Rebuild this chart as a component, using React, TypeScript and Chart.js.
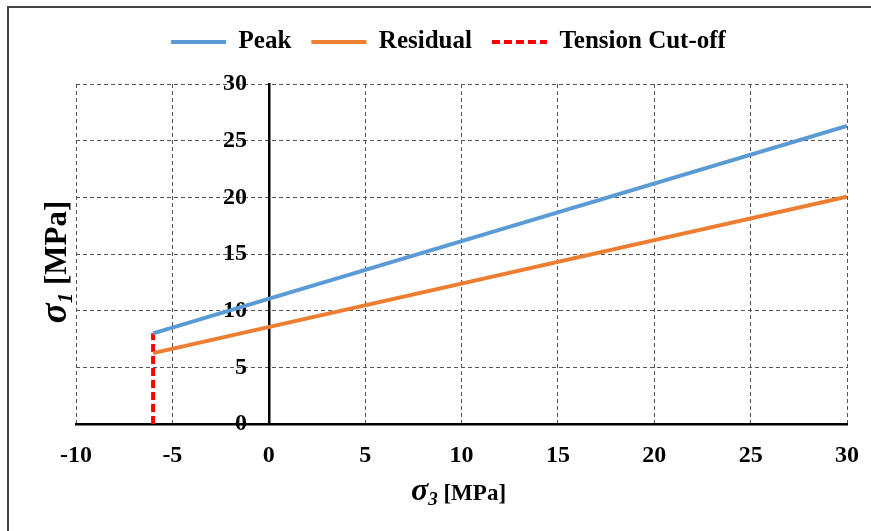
import React, { useEffect, useRef } from 'react';
import { Chart, registerables } from 'chart.js';

Chart.register(...registerables);

// ---- data ----
const seriesNames = ['Peak', 'Residual', 'Tension Cut-off'];
const sigma3 = [-6, 30];
const peakSigma1 = [8.0, 26.3];
const residualSigma1 = [6.25, 20.05];
const cutoffSigma3 = [-6, -6];
const cutoffSigma1 = [0, 8.0];
const xTickValues = [-10, -5, 0, 5, 10, 15, 20, 25, 30];
const yTickValues = [0, 5, 10, 15, 20, 25, 30];
const xTitleParts = ['σ', '3', ' [MPa]'];
const yTitleParts = ['σ', '1', ' [MPa]'];
const yLabelAnchor = -1.13; // σ3 value where the σ1 tick labels end (right-aligned)

const SERIF = '"Liberation Serif", "Times New Roman", serif';

type Part = { text: string; font: string; dy: number };

function drawParts(ctx: CanvasRenderingContext2D, parts: Part[], cx: number, baseline: number) {
  let total = 0;
  const widths = parts.map((p) => {
    ctx.font = p.font;
    const w = ctx.measureText(p.text).width;
    total += w;
    return w;
  });
  let x = cx - total / 2;
  ctx.textAlign = 'left';
  ctx.textBaseline = 'alphabetic';
  ctx.fillStyle = '#000';
  parts.forEach((p, i) => {
    ctx.font = p.font;
    ctx.fillText(p.text, x, baseline + p.dy);
    x += widths[i];
  });
}

const helperPlugin = {
  id: 'axisTitles',
  afterInit(chart: any) {
    const legend = chart.legend;
    if (legend && !legend.__patched) {
      const origFit = legend.fit.bind(legend);
      legend.fit = function () {
        origFit();
        this.height += 19.5;
      };
      const origDraw = legend.draw.bind(legend);
      legend.draw = function () {
        const c = this.ctx;
        c.save();
        c.translate(-13, 0);
        origDraw();
        c.restore();
      };
      legend.__patched = true;
    }
  },
  afterDraw(chart: any) {
    const { ctx, chartArea } = chart;
    ctx.save();
    const xParts: Part[] = [
      { text: xTitleParts[0], font: `italic bold 32px ${SERIF}`, dy: 0 },
      { text: xTitleParts[1], font: `italic bold 19px ${SERIF}`, dy: 5 },
      { text: xTitleParts[2], font: `bold 23px ${SERIF}`, dy: 0 },
    ];
    drawParts(ctx, xParts, (chartArea.left + chartArea.right) / 2 - 3, 500);

    ctx.translate(66, 262);
    ctx.rotate(-Math.PI / 2);
    const yParts: Part[] = [
      { text: yTitleParts[0], font: `italic bold 37px ${SERIF}`, dy: 0 },
      { text: yTitleParts[1], font: `italic bold 21px ${SERIF}`, dy: 6 },
      { text: yTitleParts[2], font: `bold 31px ${SERIF}`, dy: 0 },
    ];
    drawParts(ctx, yParts, 0, 0);
    ctx.restore();
  },
};

export default function App() {
  const ref = useRef<HTMLCanvasElement>(null);

  useEffect(() => {
    if (!ref.current) return;
    const defaultGen = (Chart.defaults as any).plugins.legend.labels.generateLabels;
    const chart = new Chart(ref.current, {
      type: 'line',
      data: {
        datasets: [
          {
            label: seriesNames[0],
            data: sigma3.map((x, i) => ({ x, y: peakSigma1[i] })),
            borderColor: '#5B9BD5',
            backgroundColor: '#5B9BD5',
            borderWidth: 4,
            pointRadius: 0,
          },
          {
            label: seriesNames[1],
            data: sigma3.map((x, i) => ({ x, y: residualSigma1[i] })),
            borderColor: '#ED7D31',
            backgroundColor: '#ED7D31',
            borderWidth: 4,
            pointRadius: 0,
          },
          {
            label: seriesNames[2],
            data: cutoffSigma3.map((x, i) => ({ x, y: cutoffSigma1[i] })),
            borderColor: '#FF0000',
            backgroundColor: '#FF0000',
            borderWidth: 4,
            borderDash: [8, 4],
            pointRadius: 0,
          },
        ],
      },
      options: {
        animation: false,
        responsive: false,
        events: [],
        layout: { padding: { left: 76, right: 24, top: 9.5, bottom: 0 } },
        plugins: {
          tooltip: { enabled: false },
          legend: {
            position: 'top',
            labels: {
              usePointStyle: true,
              pointStyle: 'line',
              pointStyleWidth: 55,
              padding: 20,
              color: '#000',
              font: { family: SERIF, size: 25, weight: 'bold' },
              generateLabels: (ch: any) =>
                defaultGen(ch).map((item: any) => {
                  const ds = ch.data.datasets[item.datasetIndex];
                  return { ...item, lineDash: ds.borderDash || [], lineWidth: ds.borderWidth, strokeStyle: ds.borderColor };
                }),
            },
          },
        },
        scales: {
          x: {
            type: 'linear',
            position: 'bottom',
            min: xTickValues[0],
            max: xTickValues[xTickValues.length - 1],
            afterBuildTicks: (scale: any) => {
              scale.ticks = xTickValues.map((v) => ({ value: v }));
            },
            afterFit: (scale: any) => {
              scale.height = 107;
              scale.paddingLeft = 0;
              scale.paddingRight = 0;
            },
            grid: { color: '#555', lineWidth: 1, drawTicks: false },
            border: { display: true, color: '#000', width: 2.5, dash: [4, 3] },
            ticks: {
              color: '#000',
              padding: 17,
              font: { family: SERIF, size: 24, weight: 'bold' },
              maxRotation: 0,
            },
          },
          y: {
            type: 'linear',
            position: { x: 0 } as any,
            min: yTickValues[0],
            max: yTickValues[yTickValues.length - 1],
            afterBuildTicks: (scale: any) => {
              scale.ticks = yTickValues.map((v) => ({ value: v }));
            },
            afterFit: (scale: any) => {
              scale.width = 0;
            },
            grid: { color: '#555', lineWidth: 1, drawTicks: false },
            border: { display: true, color: '#000', width: 2.5, dash: [4, 3] },
            ticks: { display: false },
          },
          yLabels: {
            type: 'linear',
            axis: 'y',
            position: { x: yLabelAnchor } as any,
            min: yTickValues[0],
            max: yTickValues[yTickValues.length - 1],
            afterBuildTicks: (scale: any) => {
              scale.ticks = yTickValues.map((v) => ({ value: v }));
            },
            afterFit: (scale: any) => {
              scale.width = 0;
            },
            grid: { display: false, drawTicks: false },
            border: { display: false },
            ticks: {
              color: '#000',
              padding: 0,
              font: { family: SERIF, size: 24, weight: 'bold' },
            },
          },
        },
      },
      plugins: [helperPlugin],
    } as any);
    return () => chart.destroy();
  }, []);

  return (
    <div style={{ position: 'absolute', left: 0, top: 0, width: 871, height: 531, overflow: 'hidden', background: '#fff' }}>
      <div
        style={{
          position: 'absolute',
          left: 7,
          top: 6,
          width: 900,
          height: 560,
          borderLeft: '2px solid #444',
          borderTop: '2px solid #444',
        }}
      />
      <canvas ref={ref} width={871} height={531} style={{ position: 'absolute', left: 0, top: 0, display: 'block' }} />
    </div>
  );
}
